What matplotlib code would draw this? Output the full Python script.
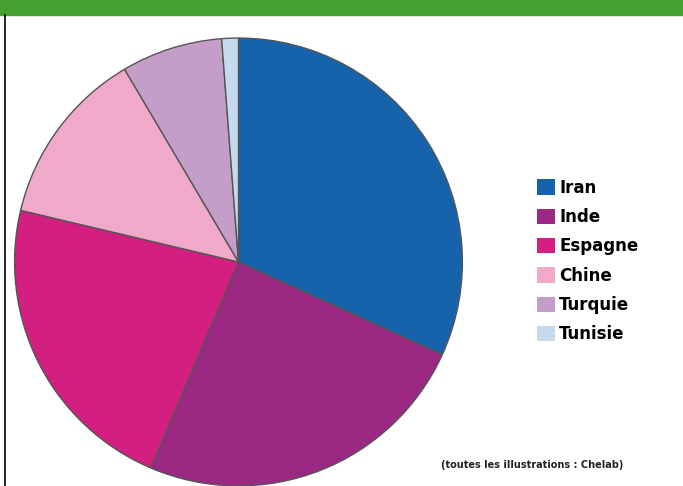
import matplotlib.pyplot as plt
from matplotlib.patches import Rectangle
from matplotlib.lines import Line2D

# parts (percent)
pays = ['Iran', 'Inde', 'Espagne', 'Chine', 'Turquie', 'Tunisie']
parts = [31.8, 24.6, 22.3, 12.8, 7.3, 1.2]
couleurs = ['#1763ab', '#9b2883', '#d21f80', '#f0a9c8', '#c49ec9', '#c6daee']

fig = plt.figure(figsize=(6.83, 4.86), dpi=100)

# green banner on top + left border line
fig.patches.append(Rectangle((0, 1 - 15/486), 1, 15/486, transform=fig.transFigure,
                             color='#45a12f', zorder=0))
fig.lines.append(Line2D([5/683, 5/683], [0, 1 - 15/486], transform=fig.transFigure,
                        color='black', lw=1.2))

ax = fig.add_axes([0.0197, -0.002, 0.659, 0.926])
wedges, _ = ax.pie(parts, colors=couleurs, startangle=90, counterclock=False,
                   wedgeprops=dict(edgecolor='#555555', linewidth=1.0))
ax.set_xlim(-1.005, 1.005)
ax.set_ylim(-1.005, 1.005)

# legend squares without outline
carres = [Rectangle((0, 0), 1, 1, facecolor=c, edgecolor='none') for c in couleurs]
fig.legend(carres, pays, loc='upper left', bbox_to_anchor=(0.777, 0.646),
           frameon=False, handlelength=1.05, handleheight=1.05, handletextpad=0.25,
           labelspacing=0.68, prop=dict(weight='bold', size=12), borderaxespad=0)

fig.text(0.645, 0.037, '(toutes les illustrations : Chelab)', fontsize=7,
         weight='bold', color='#222222')

fig.savefig('out.png', dpi=100)
